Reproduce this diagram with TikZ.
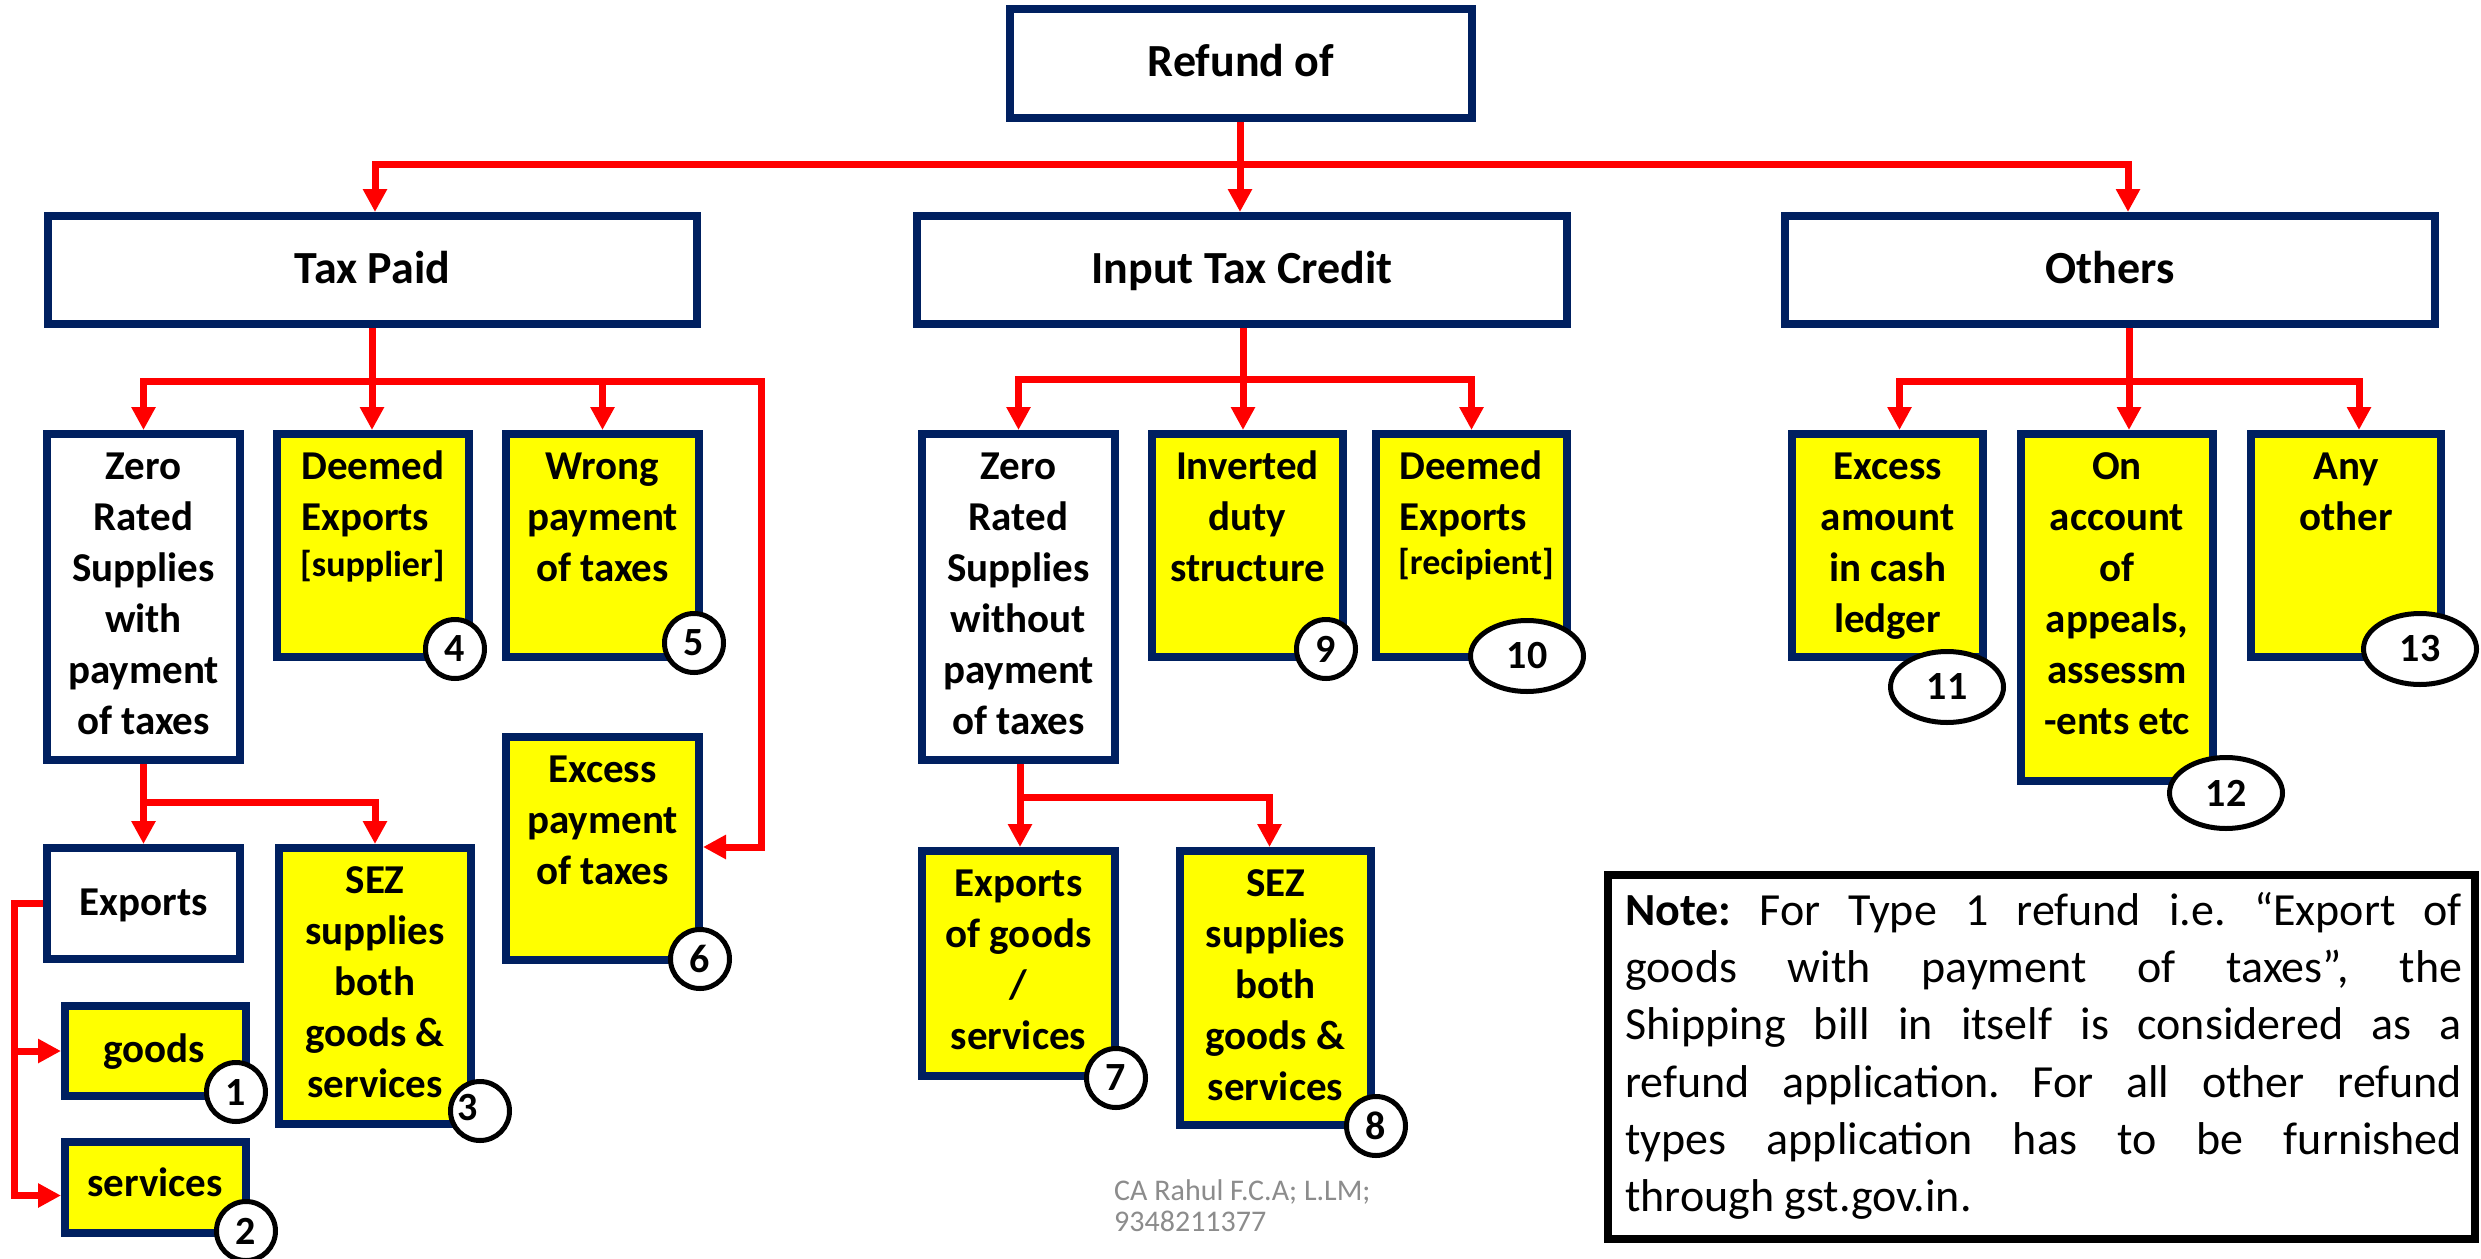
\documentclass[tikz,border=0pt]{standalone}
\usepackage{fontspec}
\setmainfont{Carlito}
\usetikzlibrary{arrows.meta,shapes.geometric}
\definecolor{navy}{HTML}{002060}
\definecolor{ylw}{HTML}{FFFF00}
\definecolor{footg}{RGB}{140,140,140}
\begin{document}
\begin{tikzpicture}[x=1pt,y=-1pt,
  bx/.style={draw=navy, line width=8pt, inner sep=0pt, rectangle},
  ybx/.style={bx, fill=ylw},
  wbx/.style={bx, fill=white},
  hdr/.style={wbx, font=\fontsize{46}{56}\selectfont\bfseries, text height=26pt, text depth=0pt},
  bt/.style={font=\fontsize{41}{51}\selectfont\bfseries, align=center, inner sep=0pt, anchor=north},
  bsmall/.style={font=\fontsize{36}{40}\selectfont\bfseries, inner sep=0pt, anchor=base west},
  bone/.style={font=\fontsize{41}{51}\selectfont\bfseries, inner sep=0pt, anchor=base},
  rl/.style={draw=red, line width=7pt},
  arr/.style={rl, -{Triangle[length=23pt,width=23pt]}},
  num/.style={circle, draw=black, line width=5pt, fill=white, minimum size=59pt, inner sep=0pt, font=\fontsize{40}{40}\selectfont\bfseries},
  numell/.style={ellipse, draw=black, line width=5pt, fill=white, minimum width=113pt, minimum height=71pt, inner sep=0pt, font=\fontsize{40}{40}\selectfont\bfseries}]
\useasboundingbox (0,0) rectangle (2481,1258);
\fill[white] (0,0) rectangle (2481,1258);
\newcommand{\fls}{\rule{0pt}{34pt}}

% level 1 and 2
\node[hdr, minimum width=462pt, minimum height=109pt] (refund) at (1241,63.5) {Refund of};
\node[hdr, minimum width=649pt, minimum height=108pt] (tp) at (372.5,270) {Tax Paid};
\node[hdr, minimum width=650pt, minimum height=108pt] (itc) at (1242,270) {Input Tax Credit};
\node[hdr, minimum width=650pt, minimum height=108pt] (oth) at (2110,270) {Others};

% level 3 boxes - Tax Paid
\node[wbx, minimum width=193pt, minimum height=326pt] (zr1) at (143.5,597) {};
\node[ybx, minimum width=192pt, minimum height=223pt] (de1) at (373,545.5) {};
\node[ybx, minimum width=193pt, minimum height=223pt] (wp) at (602.5,545.5) {};
\node[ybx, minimum width=193pt, minimum height=223pt] (ep) at (602.5,848.5) {};
\node[wbx, minimum width=193pt, minimum height=111pt] (ex) at (143.5,903.5) {};
\node[ybx, minimum width=181pt, minimum height=90pt] (gd) at (155.5,1051) {};
\node[ybx, minimum width=181pt, minimum height=91pt] (sv) at (155.5,1187.5) {};
\node[ybx, minimum width=192pt, minimum height=276pt] (sez1) at (375,986) {};

% level 3 boxes - ITC
\node[wbx, minimum width=193pt, minimum height=326pt] (zr2) at (1018.5,597) {};
\node[ybx, minimum width=191pt, minimum height=223pt] (inv) at (1247.5,545.5) {};
\node[ybx, minimum width=191pt, minimum height=223pt] (de2) at (1471.5,545.5) {};
\node[ybx, minimum width=193pt, minimum height=225pt] (eg) at (1018.5,963.5) {};
\node[ybx, minimum width=191pt, minimum height=274pt] (sez2) at (1275.5,988) {};

% level 3 boxes - Others
\node[ybx, minimum width=191pt, minimum height=223pt] (ea) at (1887.5,545.5) {};
\node[ybx, minimum width=192pt, minimum height=347pt] (oa) at (2117,607.5) {};
\node[ybx, minimum width=190pt, minimum height=223pt] (ao) at (2346,545.5) {};

% texts
\node[bt] (zr1t) at ([yshift=-15pt]zr1.north) {\fls Zero\\Rated\\Supplies\\with\\payment\\of taxes};
\node[bt, align=left, anchor=north west] (de1t) at (301,445) {\fls Deemed\\Exports};
\node[bsmall] (de1s) at (300,576) {[supplier]};
\node[bt] (wpt) at ([yshift=-15pt]wp.north) {\fls Wrong\\payment\\of taxes};
\node[bt] (ept) at ([yshift=-15pt]ep.north) {\fls Excess\\payment\\of taxes};
\node[bone] (ext) at (144,915) {Exports};
\node[bone] (gdt) at (154,1062) {goods};
\node[bone] (svt) at (155,1196) {services};
\node[bt] (sez1t) at ([yshift=-15pt]sez1.north) {\fls SEZ\\supplies\\both\\goods \&\\services};

\node[bt] (zr2t) at ([yshift=-15pt]zr2.north) {\fls Zero\\Rated\\Supplies\\without\\payment\\of taxes};
\node[bt] (invt) at ([yshift=-15pt]inv.north) {\fls Inverted\\duty\\structure};
\node[bt, align=left, anchor=north west] (de2t) at (1399,445) {\fls Deemed\\Exports};
\node[bsmall] (de2s) at (1398,574) {[recipient]};
\node[bt] (egt) at ([yshift=-15pt]eg.north) {\fls Exports\\of goods\\/\\services};
\node[bt] (sez2t) at ([yshift=-15pt]sez2.north) {\fls SEZ\\supplies\\both\\goods \&\\services};

\node[bt] (eat) at ([yshift=-15pt]ea.north) {\fls Excess\\amount\\in cash\\ledger};
\node[bt] (oat) at ([yshift=-15pt]oa.north) {\fls On\\account\\of\\appeals,\\assessm\\-ents etc};
\node[bt] (aot) at ([yshift=-15pt]ao.north) {\fls Any\\other};

% connectors level 1 -> 2
\coordinate (j0) at (1240,164);
\coordinate (j0L) at (375,164);
\coordinate (j0R) at (2128,164);
\draw[arr] (j0) -| (tp.north -| j0L);
\draw[arr] (j0) -| (oth.north -| j0R);
\draw[arr] (refund.south -| j0) -- (itc.north -| j0);

% Tax Paid -> children
\coordinate (j1) at (372,381);
\coordinate (j1R) at (761,847);
\draw[arr] (j1) -| (zr1.north);
\draw[arr] (j1) -| (wp.north);
\draw[arr] (j1) -| (j1R) -- (ep.east |- j1R);
\draw[arr] (tp.south -| j1) -- (de1.north -| j1);

% ITC -> children
\coordinate (j2) at (1243,379);
\draw[arr] (j2) -| (zr2.north);
\draw[arr] (j2) -| (de2.north);
\draw[arr] (itc.south -| j2) -- (inv.north -| j2);

% Others -> children
\coordinate (j3) at (2129,381);
\draw[arr] (j3) -| ([xshift=12pt]ea.north);
\draw[arr] (j3) -| ([xshift=13pt]ao.north);
\draw[arr] (oth.south -| j3) -- ([xshift=12pt]oa.north);

% Zero rated (TP) -> Exports, SEZ
\coordinate (j4) at (143,802);
\draw[arr] (zr1.south) -- (ex.north);
\draw[arr] (zr1.south |- j4) -| (sez1.north);

% Zero rated (ITC) -> Exports, SEZ
\coordinate (j5) at (1020,797);
\draw[arr] (zr2.south -| j5) -- (eg.north -| j5);
\draw[arr] (j5) -| ([xshift=-6pt]sez2.north);

% Exports -> goods, services
\coordinate (j6) at (14,903.5);
\draw[arr] (ex.west) -- (j6) |- ([yshift=-8pt]sv.west);
\draw[arr] (j6 |- gd.west) -- (gd.west);

% number markers
\node[num] (c1) at (236,1092) {1};
\node[num] (c2) at (246,1231) {2};
\node[num] (c3) at (480,1111) {};
\node[font=\fontsize{40}{40}\selectfont\bfseries, inner sep=0pt] (c3t) at (468,1108) {3};
\node[num] (c4) at (455,649) {4};
\node[num] (c5) at (694,643) {5};
\node[num] (c6) at (700,959) {6};
\node[num] (c7) at (1116,1078) {7};
\node[num] (c8) at (1376,1126) {8};
\node[num] (c9) at (1326,649) {9};
\node[numell] (c10) at (1527,656) {10};
\node[numell] (c11) at (1947,687) {11};
\node[numell] (c12) at (2226,793) {12};
\node[numell] (c13) at (2420,649) {13};

% note
\node[draw=black, line width=8pt, fill=white, minimum width=867pt, minimum height=364pt, inner sep=0pt] (note) at (2041.5,1057) {};
\node[anchor=north west, inner sep=0pt, align=left, font=\fontsize{46}{57.3}\selectfont\frenchspacing] (notet) at (1625,889)
 {\rule{0pt}{36pt}\makebox[837pt][s]{\textbf{Note:} For Type 1 refund i.e. “Export of}\\
  \makebox[837pt][s]{goods with payment of taxes”, the}\\
  \makebox[837pt][s]{Shipping bill in itself is considered as a}\\
  \makebox[837pt][s]{refund application. For all other refund}\\
  \makebox[837pt][s]{types application has to be furnished}\\
  through gst.gov.in.};

% footer
\node[anchor=north west, inner sep=0pt, align=left, font=\fontsize{30}{31}\selectfont, text=footg] (foot) at (1114,1176)
 {\rule{0pt}{24pt}CA Rahul F.C.A; L.LM;\\9348211377};
\end{tikzpicture}
\end{document}
